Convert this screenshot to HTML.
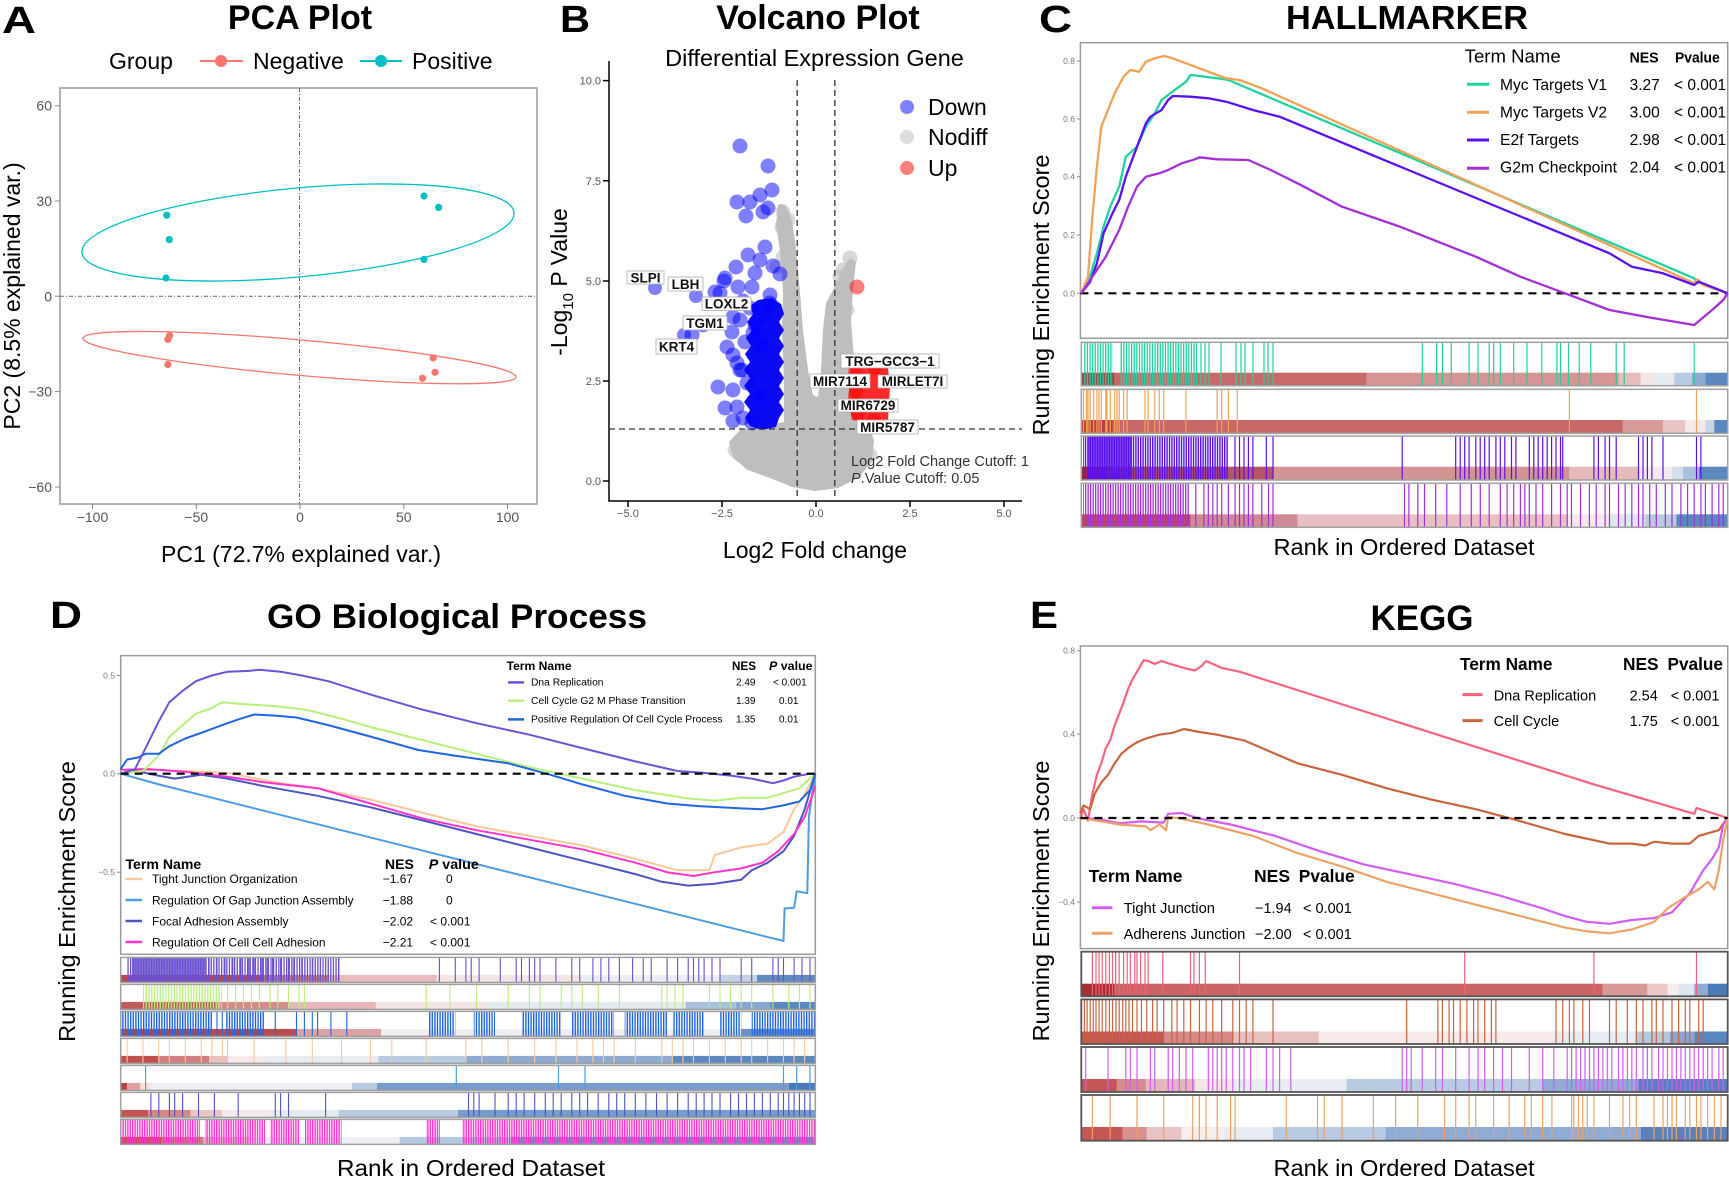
<!DOCTYPE html>
<html><head><meta charset="utf-8"><style>
html,body{margin:0;padding:0;background:#fff;}
svg{display:block;font-family:"Liberation Sans",Arial,sans-serif;}
</style></head><body>
<svg width="1729" height="1179" viewBox="0 0 1729 1179" xmlns="http://www.w3.org/2000/svg">
<defs>
<pattern id="pG" width="2.6" height="60" patternUnits="userSpaceOnUse"><rect width="1.3" height="60" fill="#1fd3a0"/></pattern>
<pattern id="pV" width="2.4" height="60" patternUnits="userSpaceOnUse"><rect width="1.4" height="60" fill="#5a10f0"/></pattern>
<pattern id="pP" width="2.5" height="60" patternUnits="userSpaceOnUse"><rect width="1.3" height="60" fill="#a32fd8"/></pattern>
<pattern id="pDp" width="2.6" height="60" patternUnits="userSpaceOnUse"><rect width="1.3" height="60" fill="#6a4fd0"/></pattern>
<pattern id="pDg" width="2.8" height="60" patternUnits="userSpaceOnUse"><rect width="1.3" height="60" fill="#b8f07a"/></pattern>
<pattern id="pDb" width="2.6" height="60" patternUnits="userSpaceOnUse"><rect width="1.4" height="60" fill="#1f66e0"/></pattern>
<pattern id="pDm" width="2.4" height="60" patternUnits="userSpaceOnUse"><rect width="1.4" height="60" fill="#ff33cc"/></pattern>
</defs>
<rect width="1729" height="1179" fill="#fff"/>

<!-- ================= PANEL A ================= -->
<text x="2" y="33" font-size="38" font-weight="bold" textLength="34" lengthAdjust="spacingAndGlyphs">A</text>
<text x="300" y="29" font-size="34" font-weight="bold" text-anchor="middle">PCA Plot</text>
<text x="109" y="69" font-size="23">Group</text>
<line x1="200" y1="61" x2="243" y2="61" stroke="#F8766D" stroke-width="2"/>
<circle cx="221" cy="61" r="6" fill="#F8766D"/>
<text x="253" y="69" font-size="23">Negative</text>
<line x1="360" y1="61" x2="402" y2="61" stroke="#00BFC4" stroke-width="2"/>
<circle cx="381" cy="61" r="6" fill="#00BFC4"/>
<text x="412" y="69" font-size="23">Positive</text>
<rect x="60" y="88" width="477" height="416" fill="none" stroke="#9a9a9a" stroke-width="1.5"/>
<g stroke="#888" stroke-width="1">
<path d="M55 105.7H60M55 201H60M55 296.3H60M55 391.6H60M55 487H60"/>
<path d="M92.5 504V509M196.3 504V509M300 504V509M403.8 504V509M507.5 504V509"/>
</g>
<g font-size="14" fill="#555" text-anchor="end">
<text x="52" y="110.7">60</text><text x="52" y="206">30</text><text x="52" y="301.3">0</text><text x="52" y="396.6">−30</text><text x="52" y="492">−60</text>
</g>
<g font-size="14" fill="#555" text-anchor="middle">
<text x="92.5" y="522">−100</text><text x="196.3" y="522">−50</text><text x="300" y="522">0</text><text x="403.8" y="522">50</text><text x="507.5" y="522">100</text>
</g>
<g stroke="#666" stroke-width="1" stroke-dasharray="4,2,1,2">
<line x1="299.5" y1="88" x2="299.5" y2="504"/>
<line x1="60" y1="296.3" x2="537" y2="296.3"/>
</g>
<ellipse cx="298" cy="232.5" rx="217" ry="44.4" transform="rotate(-5.3 298 232.5)" fill="none" stroke="#00BFC4" stroke-width="1.3"/>
<ellipse cx="299.5" cy="357.6" rx="217.4" ry="17.7" transform="rotate(5.1 299.5 357.6)" fill="none" stroke="#F8766D" stroke-width="1.3"/>
<g fill="#00BFC4">
<circle cx="166.8" cy="215.2" r="3.6"/><circle cx="169.3" cy="239.6" r="3.6"/><circle cx="166" cy="278" r="3.6"/>
<circle cx="424" cy="196" r="3.6"/><circle cx="438.6" cy="207.4" r="3.6"/><circle cx="424" cy="259.5" r="3.6"/>
</g>
<g fill="#F8766D">
<circle cx="169.6" cy="335.7" r="3.6"/><circle cx="167.9" cy="339.4" r="3.6"/><circle cx="167.9" cy="364.5" r="3.6"/>
<circle cx="433.2" cy="357.9" r="3.6"/><circle cx="435" cy="372.3" r="3.6"/><circle cx="422.5" cy="378.2" r="3.6"/>
</g>
<text x="301" y="562" font-size="23" text-anchor="middle">PC1 (72.7% explained var.)</text>
<text transform="translate(20,296) rotate(-90)" font-size="23" text-anchor="middle">PC2 (8.5% explained var.)</text>

<!-- ================= PANEL B ================= -->
<text x="560" y="32" font-size="38" font-weight="bold" textLength="30" lengthAdjust="spacingAndGlyphs">B</text>
<text x="818" y="29" font-size="34" font-weight="bold" text-anchor="middle">Volcano Plot</text>
<text x="814.5" y="66" font-size="23.5" text-anchor="middle">Differential Expression Gene</text>

<!-- gray mass -->
<path d="M778,205 C786,200 792,215 795,240 L799,280 L803,330 L808,370 L813,395 L818,397 L821,370 L823,330 L826,303 L833,290 L842,270 L850,258 L856,262 L853,290 L851,320 L854,360 L858,395 L866,418 L874,440 L872,462 L858,478 L838,488 L815,491 L792,487 L770,478 L748,470 L733,458 L729,442 L740,430 L760,427 L784,422 L784,380 L782,330 L783,290 L780,250 L776,225 Z" fill="#bebebe"/>
<g fill="#bebebe" fill-opacity="0.6">
<circle cx="783" cy="212" r="7.5"/><circle cx="788" cy="220" r="7.5"/><circle cx="782" cy="227" r="7.5"/><circle cx="788" cy="250" r="7.5"/><circle cx="783" cy="257" r="7.5"/><circle cx="777" cy="267" r="7.5"/>
<circle cx="850" cy="258" r="7.5"/><circle cx="843" cy="270" r="7.5"/><circle cx="840" cy="277" r="7.5"/><circle cx="838" cy="297" r="7.5"/><circle cx="847" cy="310" r="7.5"/>
<circle cx="738" cy="445" r="7.5"/><circle cx="745" cy="455" r="7.5"/><circle cx="750" cy="463" r="7.5"/><circle cx="735" cy="450" r="7.5"/><circle cx="866" cy="440" r="7.5"/><circle cx="870" cy="455" r="7.5"/>
</g>
<!-- blue -->
<path d="M758,300 L772,298 L781,304 L784,314 L779,322 L784,330 L779,338 L784,346 L779,354 L784,362 L779,370 L784,378 L779,386 L784,394 L779,402 L784,410 L779,418 L776,427 L762,430 L750,426 L745,418 L750,410 L744,402 L750,394 L744,386 L750,378 L744,370 L750,362 L745,354 L751,346 L746,338 L752,330 L747,322 L753,314 L750,306 Z" fill="#0a0af5"/>
<g fill="#0000ff" fill-opacity="0.5">
<circle cx="740" cy="146" r="7.5"/><circle cx="768" cy="166" r="7.5"/><circle cx="737" cy="202" r="7.5"/><circle cx="750" cy="202" r="7.5"/><circle cx="760" cy="195" r="7.5"/><circle cx="772" cy="190" r="7.5"/>
<circle cx="746" cy="216" r="7.5"/><circle cx="763" cy="212" r="7.5"/><circle cx="768" cy="208" r="7.5"/><circle cx="765" cy="247" r="7.5"/><circle cx="736" cy="267" r="7.5"/><circle cx="725" cy="278" r="7.5"/>
<circle cx="755" cy="273" r="7.5"/><circle cx="773" cy="266" r="7.5"/><circle cx="780" cy="274" r="7.5"/><circle cx="738" cy="287" r="7.5"/><circle cx="752" cy="287" r="7.5"/><circle cx="770" cy="295" r="7.5"/>
<circle cx="720" cy="293" r="7.5"/><circle cx="750" cy="308" r="7.5"/><circle cx="733" cy="317" r="7.5"/><circle cx="770" cy="303" r="7.5"/><circle cx="755" cy="325" r="7.5"/><circle cx="732" cy="332" r="7.5"/>
<circle cx="745" cy="342" r="7.5"/><circle cx="727" cy="347" r="7.5"/><circle cx="737" cy="363" r="7.5"/><circle cx="742" cy="370" r="7.5"/><circle cx="718" cy="387" r="7.5"/><circle cx="733" cy="390" r="7.5"/>
<circle cx="747" cy="383" r="7.5"/><circle cx="725" cy="408" r="7.5"/><circle cx="737" cy="407" r="7.5"/><circle cx="743" cy="418" r="7.5"/><circle cx="752" cy="423" r="7.5"/><circle cx="733" cy="421" r="7.5"/>
<circle cx="724" cy="281" r="7.5"/><circle cx="743" cy="301" r="7.5"/><circle cx="740" cy="320" r="7.5"/><circle cx="753" cy="333" r="7.5"/><circle cx="733" cy="355" r="7.5"/><circle cx="740" cy="370" r="7.5"/>
<circle cx="715" cy="292" r="7.5"/><circle cx="703" cy="325" r="7.5"/><circle cx="692" cy="335" r="7.5"/><circle cx="684" cy="335" r="7"/><circle cx="696" cy="296" r="7"/><circle cx="655" cy="288" r="7"/>
<circle cx="760" cy="260" r="7.5"/><circle cx="748" cy="255" r="7.5"/><circle cx="762" cy="345" r="7.5"/><circle cx="760" cy="395" r="7.5"/><circle cx="765" cy="315" r="7.5"/>
</g>
<!-- red -->
<path d="M850,368 L872,364 L888,368 L890,385 L889,405 L888,420 L870,423 L852,420 L848,400 L850,380 Z" fill="#ff2a2a"/>
<g fill="#ff0000" fill-opacity="0.5">
<circle cx="857" cy="287" r="7.5"/>
<circle cx="855" cy="372" r="7"/><circle cx="875" cy="368" r="7"/><circle cx="884" cy="380" r="7"/><circle cx="856" cy="392" r="7"/><circle cx="886" cy="405" r="7"/><circle cx="858" cy="413" r="7"/><circle cx="874" cy="420" r="7"/>
</g>
<!-- axes -->
<g stroke="#000" stroke-width="1.5" fill="none">
<path d="M609 61V501H1022"/>
<path d="M603 80.6H609M603 180.8H609M603 281H609M603 381H609M603 481H609"/>
<path d="M628 501V507M722 501V507M816 501V507M910 501V507M1004 501V507"/>
</g>
<g font-size="11" fill="#555" text-anchor="end">
<text x="601" y="84.6">10.0</text><text x="601" y="184.8">7.5</text><text x="601" y="285">5.0</text><text x="601" y="385">2.5</text><text x="601" y="485">0.0</text>
</g>
<g font-size="11" fill="#555" text-anchor="middle">
<text x="628" y="517">−5.0</text><text x="722" y="517">−2.5</text><text x="816" y="517">0.0</text><text x="910" y="517">2.5</text><text x="1004" y="517">5.0</text>
</g>
<g stroke="#333" stroke-width="1.3" stroke-dasharray="6,4">
<line x1="797.2" y1="80" x2="797.2" y2="501"/>
<line x1="834.8" y1="80" x2="834.8" y2="501"/>
<line x1="609" y1="429" x2="1022" y2="429"/>
</g>
<!-- labels -->
<g stroke="#aaa" stroke-width="0.8" fill="#fff">
<rect x="627" y="271" width="37" height="13"/><rect x="668" y="277" width="35" height="14"/><rect x="702" y="297" width="49" height="13.5"/>
<rect x="683" y="316" width="44" height="14"/><rect x="656" y="339" width="41" height="15"/><rect x="841" y="354" width="98" height="14"/>
<rect x="810" y="374" width="60" height="14"/><rect x="878" y="375" width="69" height="13"/><rect x="838" y="399" width="60" height="13"/><rect x="857" y="420" width="61" height="14"/>
</g>
<g font-size="13.5" font-weight="bold" fill="#111" text-anchor="middle">
<text x="645.5" y="282.5">SLPI</text><text x="685.5" y="289">LBH</text><text x="726.5" y="308.5">LOXL2</text>
<text x="705" y="328">TGM1</text><text x="676.5" y="351.5">KRT4</text><text x="890" y="366">TRG−GCC3−1</text>
<text x="840" y="386">MIR7114</text><text x="912.5" y="386">MIRLET7I</text><text x="868" y="410">MIR6729</text><text x="887.5" y="432">MIR5787</text>
</g>
<!-- legend -->
<circle cx="907" cy="107" r="7" fill="#7f7fff"/>
<circle cx="907" cy="137" r="7" fill="#dcdcdc"/>
<circle cx="907" cy="168" r="7" fill="#ff7f7f"/>
<g font-size="23"><text x="928" y="115">Down</text><text x="928" y="145">Nodiff</text><text x="928" y="176">Up</text></g>
<text x="851" y="466" font-size="14.5" fill="#333">Log2 Fold Change Cutoff: 1</text>
<text x="851" y="483" font-size="14.5" fill="#333"><tspan font-style="italic">P</tspan>.Value Cutoff: 0.05</text>
<text x="815" y="558" font-size="23" text-anchor="middle">Log2  Fold change</text>
<text transform="translate(567,282) rotate(-90)" font-size="23" text-anchor="middle">-Log<tspan font-size="15" dy="6">10</tspan><tspan dy="-6"> P Value</tspan></text>

<!-- ================= PANEL C ================= -->
<text x="1039" y="32" font-size="38" font-weight="bold" textLength="33" lengthAdjust="spacingAndGlyphs">C</text>
<text x="1407" y="29" font-size="33" font-weight="bold" text-anchor="middle" textLength="242" lengthAdjust="spacingAndGlyphs">HALLMARKER</text>
<rect x="1080.4" y="42.7" width="647.3" height="295.6" fill="#fff" stroke="#9a9a9a" stroke-width="1.5"/>
<g stroke="#888" stroke-width="1"><path d="M1077 61H1080.4M1077 119H1080.4M1077 176.7H1080.4M1077 235H1080.4M1077 293.3H1080.4"/></g>
<g font-size="8.5" fill="#777" text-anchor="end">
<text x="1075" y="64">0.8</text><text x="1075" y="122">0.6</text><text x="1075" y="179.7">0.4</text><text x="1075" y="238">0.2</text><text x="1075" y="296.3">0.0</text>
</g>
<line x1="1080.4" y1="293.3" x2="1727.7" y2="293.3" stroke="#000" stroke-width="2.2" stroke-dasharray="8,6"/>
<g fill="none" stroke-width="2.3" stroke-linejoin="round">
<polyline stroke="#1fd3a0" points="1081.3,293.3 1088,283.3 1096.9,253.3 1103.6,226.7 1110.2,206.7 1119.2,186.7 1125.8,156.7 1137,146.7 1145.9,126.7 1154.8,113.3 1161.5,100 1168.2,95 1177.1,88.3 1186,81.7 1190.5,75 1199.4,76 1217.2,78.3 1228.4,80 1694.2,278.3 1696.5,281.7 1727.7,293.3"/>
<polyline stroke="#f2a255" points="1081.3,293.3 1088,276.7 1092.4,216.7 1096.9,166.7 1101.3,126.7 1108,110 1114.7,93.3 1123.6,76.7 1130.3,70 1139.2,71.7 1145.9,61.7 1154.8,58.3 1163.7,56 1172.7,58.3 1181.6,61.7 1199.4,68.3 1217.2,75 1226.2,78.3 1239.5,80 1261.8,88.3 1694.2,283.3 1697.4,279.3 1703.2,285 1727.7,293.3"/>
<polyline stroke="#5a10f0" points="1081.3,293.3 1090.2,281.7 1096.9,263.3 1103.6,233.3 1112.5,213.3 1119.2,200 1125.8,176.7 1137,146.7 1145.9,123.3 1150.4,116.7 1161.5,110 1168.2,100 1172.7,96 1190.5,96.7 1208.3,98.3 1226.2,101.7 1252.9,110 1279.6,116.7 1609.5,253.3 1631.8,266.7 1663,273.3 1694.2,285 1698.7,281.7 1727.7,293.3"/>
<polyline stroke="#a32fd8" points="1081.3,293.3 1092.4,276.7 1105.8,256.7 1119.2,230 1128.1,206.7 1137,186.7 1145.9,176.7 1159.3,173.3 1168.2,170 1181.6,163.3 1195,159.3 1199.4,157.3 1217.2,159.3 1248.4,160 1270.7,170 1297.5,183.3 1342,206.7 1400,226.7 1475.8,256.7 1520.4,276.7 1565,293.3 1609.5,310 1654.1,318.3 1694.2,325 1712.1,310 1723.2,300 1727.7,293.3"/>
</g>
<text x="1464.7" y="62.3" font-size="18" textLength="96" lengthAdjust="spacingAndGlyphs">Term Name</text>
<text x="1629.6" y="62.3" font-size="15" font-weight="bold" textLength="29" lengthAdjust="spacingAndGlyphs">NES</text>
<text x="1675" y="62.3" font-size="15" font-weight="bold" textLength="44.7" lengthAdjust="spacingAndGlyphs">Pvalue</text>
<g stroke-width="3">
<line x1="1467" y1="84.3" x2="1489" y2="84.3" stroke="#1fd3a0"/>
<line x1="1467" y1="112.3" x2="1489" y2="112.3" stroke="#f2a255"/>
<line x1="1467" y1="140" x2="1489" y2="140" stroke="#5a10f0"/>
<line x1="1467" y1="168.3" x2="1489" y2="168.3" stroke="#a32fd8"/>
</g>
<g font-size="15.5">
<text x="1500" y="90" textLength="107" lengthAdjust="spacingAndGlyphs">Myc Targets V1</text>
<text x="1500" y="117.3" textLength="107" lengthAdjust="spacingAndGlyphs">Myc Targets V2</text>
<text x="1500" y="145" textLength="79" lengthAdjust="spacingAndGlyphs">E2f Targets</text>
<text x="1500" y="172.3" textLength="117" lengthAdjust="spacingAndGlyphs">G2m Checkpoint</text>
<text x="1629.6" y="90">3.27</text><text x="1629.6" y="117.3">3.00</text><text x="1629.6" y="145">2.98</text><text x="1629.6" y="172.3">2.04</text>
<text x="1674" y="90">&lt; 0.001</text><text x="1674" y="117.3">&lt; 0.001</text><text x="1674" y="145">&lt; 0.001</text><text x="1674" y="172.3">&lt; 0.001</text>
</g>
<!-- C strips -->
<g>
<rect x="1081.3" y="372.7" width="33.4" height="13" fill="#9e4545"/><rect x="1114.7" y="372.7" width="251.9" height="13" fill="#c96a6a"/><rect x="1366.6" y="372.7" width="251.9" height="13" fill="#d79494"/><rect x="1618.5" y="372.7" width="22.2" height="13" fill="#e8bcbc"/><rect x="1640.7" y="372.7" width="13.4" height="13" fill="#f5e6e6"/><rect x="1654.1" y="372.7" width="20.1" height="13" fill="#e6ebf2"/><rect x="1674.2" y="372.7" width="17.8" height="13" fill="#b9cbe2"/><rect x="1692" y="372.7" width="13.4" height="13" fill="#8dabd2"/><rect x="1705.4" y="372.7" width="22.3" height="13" fill="#5b88bf"/>
<rect x="1083" y="342.3" width="30" height="43.4" fill="url(#pG)"/><rect x="1120" y="342.3" width="77" height="43.4" fill="url(#pG)"/>
<path transform="translate(0,342.3)" stroke="#1fd3a0" stroke-width="1.2" d="M1201 0v43.4M1205 0v43.4M1209 0v43.4M1221 0v43.4M1236 0v43.4M1241 0v43.4M1245 0v43.4M1253 0v43.4M1264 0v43.4M1268 0v43.4M1273 0v43.4M1422.3 0v43.4M1436.6 0v43.4M1442.4 0v43.4M1451.3 0v43.4M1469.1 0v43.4M1478 0v43.4M1489.2 0v43.4M1493.6 0v43.4M1500.3 0v43.4M1513.7 0v43.4M1527 0v43.4M1541.8 0v43.4M1556.9 0v43.4M1560.5 0v43.4M1568.5 0v43.4M1579.2 0v43.4M1590.8 0v43.4M1616.2 0v43.4M1624.2 0v43.4M1694.2 0v43.4"/>
<rect x="1081.3" y="342.3" width="646.4" height="43.4" fill="none" stroke="#a0a0a0" stroke-width="1.5"/>

<rect x="1081.3" y="420" width="31.2" height="13.3" fill="#b84040"/><rect x="1112.5" y="420" width="510.4" height="13.3" fill="#c96868"/><rect x="1622.9" y="420" width="40.1" height="13.3" fill="#d99a9a"/><rect x="1663" y="420" width="22.3" height="13.3" fill="#e8c4c4"/><rect x="1685.3" y="420" width="20.1" height="13.3" fill="#f2eaea"/><rect x="1705.4" y="420" width="8.9" height="13.3" fill="#c9d6e8"/><rect x="1714.3" y="420" width="13.4" height="13.3" fill="#5b88bf"/>
<path transform="translate(0,389.3)" stroke="#f2a255" stroke-width="1.2" d="M1083.5 0v44M1086.6 0v44M1088 0v44M1090.2 0v44M1093.7 0v44M1096.9 0v44M1099 0v44M1101.3 0v44M1105.8 0v44M1107 0v44M1110.2 0v44M1114.7 0v44M1117 0v44M1119.2 0v44M1123.6 0v44M1127.2 0v44M1145 0v44M1148.1 0v44M1154.8 0v44M1159.3 0v44M1163.7 0v44M1186 0v44M1217.2 0v44M1221.7 0v44M1228.4 0v44M1237.3 0v44M1569.4 0v44M1696.5 0v44"/>
<rect x="1081.3" y="389.3" width="646.4" height="44" fill="none" stroke="#a0a0a0" stroke-width="1.5"/>

<rect x="1081.3" y="466.7" width="26.7" height="13.3" fill="#a82a40"/><rect x="1108" y="466.7" width="165" height="13.3" fill="#b55565"/><rect x="1273" y="466.7" width="296.4" height="13.3" fill="#d49494"/><rect x="1569.4" y="466.7" width="69.1" height="13.3" fill="#e6baba"/><rect x="1638.5" y="466.7" width="33.5" height="13.3" fill="#f2eaee"/><rect x="1672" y="466.7" width="11.1" height="13.3" fill="#d2deec"/><rect x="1683.1" y="466.7" width="15.6" height="13.3" fill="#a8c0dc"/><rect x="1698.7" y="466.7" width="29" height="13.3" fill="#5b88bf"/>
<rect x="1083" y="436" width="145" height="44" fill="url(#pV)"/><rect x="1088" y="436" width="44" height="44" fill="#5a10f0" fill-opacity="0.75"/>
<path transform="translate(0,436)" stroke="#5a10f0" stroke-width="1.2" d="M1235 0v44M1239.5 0v44M1244 0v44M1248.4 0v44M1252.9 0v44M1266.3 0v44M1273 0v44M1402.2 0v44M1455.7 0v44M1460.2 0v44M1464.7 0v44M1469.1 0v44M1475.8 0v44M1480.2 0v44M1484.7 0v44M1489.2 0v44M1495.9 0v44M1500.3 0v44M1504.8 0v44M1511.5 0v44M1515.9 0v44M1529.3 0v44M1533.8 0v44M1538.2 0v44M1542.7 0v44M1547.2 0v44M1551.6 0v44M1556 0v44M1560.5 0v44M1562.7 0v44M1593.9 0v44M1598.4 0v44M1605.1 0v44M1609.5 0v44M1616.2 0v44M1638.5 0v44M1643 0v44M1647.4 0v44M1651.9 0v44M1663 0v44M1696.5 0v44M1700.9 0v44"/>
<rect x="1081.3" y="436" width="646.4" height="44" fill="none" stroke="#a0a0a0" stroke-width="1.5"/>

<rect x="1081.3" y="514.3" width="109.2" height="13" fill="#bf4a6a"/><rect x="1190.5" y="514.3" width="107" height="13" fill="#d08a95"/><rect x="1297.5" y="514.3" width="269.7" height="13" fill="#e8c0c4"/><rect x="1567.2" y="514.3" width="42.3" height="13" fill="#f4e8ee"/><rect x="1609.5" y="514.3" width="35.7" height="13" fill="#e0e6f0"/><rect x="1645.2" y="514.3" width="31.2" height="13" fill="#b8c9e0"/><rect x="1676.4" y="514.3" width="51.3" height="13" fill="#5b88bf"/>
<rect x="1083" y="483.3" width="107" height="44" fill="url(#pP)"/>
<path transform="translate(0,483.3)" stroke="#a32fd8" stroke-width="1.2" d="M1195.8 0v44M1203.9 0v44M1208.3 0v44M1212.8 0v44M1217.2 0v44M1221.7 0v44M1228.4 0v44M1235.1 0v44M1239.5 0v44M1244 0v44M1248.4 0v44M1252.9 0v44M1261.8 0v44M1268.5 0v44M1273 0v44M1404.5 0v44M1408.9 0v44M1417.8 0v44M1424.5 0v44M1435.7 0v44M1446.8 0v44M1460.2 0v44M1471.3 0v44M1480.3 0v44M1489.2 0v44M1500.3 0v44M1507.1 0v44M1513.7 0v44M1520.4 0v44M1524.9 0v44M1529.3 0v44M1536 0v44M1542.7 0v44M1551.6 0v44M1560.5 0v44M1567.2 0v44M1571.5 0v44M1580.5 0v44M1589.4 0v44M1596.2 0v44M1605.1 0v44M1609.5 0v44M1618.5 0v44M1625.2 0v44M1631.8 0v44M1638.5 0v44M1643 0v44M1649.7 0v44M1656.3 0v44M1665.3 0v44M1672 0v44M1680.9 0v44M1687.6 0v44M1694.2 0v44M1700.9 0v44M1705.4 0v44M1712.1 0v44M1718.8 0v44M1723.2 0v44"/>
<rect x="1081.3" y="483.3" width="646.4" height="44" fill="none" stroke="#a0a0a0" stroke-width="1.5"/>
</g>
<text x="1404" y="555" font-size="23" text-anchor="middle" textLength="261" lengthAdjust="spacingAndGlyphs">Rank in Ordered Dataset</text>
<text transform="translate(1049,295) rotate(-90)" font-size="23.5" text-anchor="middle">Running Enrichment Score</text>

<!-- ================= PANEL D ================= -->
<text x="50" y="628" font-size="38" font-weight="bold" textLength="32" lengthAdjust="spacingAndGlyphs">D</text>
<text x="457" y="628" font-size="34.6" font-weight="bold" text-anchor="middle" textLength="380" lengthAdjust="spacingAndGlyphs">GO Biological Process</text>
<rect x="120.7" y="655.6" width="694.6" height="298.7" fill="#fff" stroke="#9a9a9a" stroke-width="1.5"/>
<g stroke="#888" stroke-width="1"><path d="M117 675.5H120.7M117 773.7H120.7M117 872.2H120.7"/></g>
<g font-size="8.5" fill="#777" text-anchor="end">
<text x="115" y="678.5">0.5</text><text x="115" y="776.7">0.0</text><text x="115" y="875.2">−0.5</text>
</g>
<g fill="none" stroke-width="2" stroke-linejoin="round">
<polyline stroke="#4d9de0" points="120.7,773.7 158.8,784.4 783.5,941 784.6,908.5 794.1,907.7 796.7,891.3 807.3,893.2 808.9,816.8 815.3,773.7"/>
<polyline stroke="#f9c89a" points="120.7,773.7 148.2,769.8 185.3,771 227.6,772.9 275.3,782.4 317.6,788.2 370.6,799.6 423.5,813 476.5,826.4 529.4,835.9 582.3,845.5 635.3,858.8 677.6,870.3 709.4,870.3 714.7,855 741.2,847.4 767.6,843.6 783.5,832.1 794.1,809.2 804.7,793.9 815.3,773.7"/>
<polyline stroke="#4b55c2" points="120.7,773.7 137.6,771 153.5,774.8 174.7,778.6 201.2,774.8 227.6,778.6 264.7,786.3 317.6,795.8 370.6,807.3 423.5,820.6 476.5,834 529.4,847.4 582.3,860.7 635.3,874.1 661.8,881.8 688.2,885.6 714.7,883.7 741.2,879.8 751.7,870.3 767.6,862.7 783.5,851.2 794.1,835.9 804.7,809.2 815.3,773.7"/>
<polyline stroke="#ff33cc" points="120.7,769.8 148.2,769.1 185.3,771.7 227.6,776.7 264.7,782.4 317.6,788.2 370.6,803.5 423.5,818.7 476.5,830.2 529.4,839.7 582.3,849.3 635.3,862.7 667.1,872.2 693.5,876 714.7,872.2 741.2,868.4 762.4,862.7 778.2,851.2 794.1,834 804.7,816.8 815.3,786.3"/>
<polyline stroke="#b8f07a" points="120.7,773.7 142.9,771 158.8,755.7 169.4,736.6 182.6,725.1 195.9,713.7 211.8,708 222.3,702.2 243.5,704.1 275.3,706.1 307,709.9 344.1,719.4 370.6,727.1 423.5,740.4 476.5,753.8 529.4,767.2 582.3,778.6 635.3,790.1 688.2,798.5 714.7,800.8 741.2,797.7 767.6,797.7 783.5,793.1 799.4,788.2 815.3,773.7"/>
<polyline stroke="#1f66e0" points="120.7,769.1 127.1,759.5 137.6,757.6 145.6,753.8 158.8,753.8 169.4,746.2 185.3,738.5 206.5,730.9 222.3,725.1 238.2,719.4 254.1,714.5 275.3,715.6 296.5,717.5 328.2,725.1 370.6,736.6 418.2,750 455.3,755.7 508.2,763.3 550.6,774.8 582.3,784.4 624.7,795.8 667.1,803.5 698.8,806.1 741.2,808.4 762.4,809.2 783.5,805.4 799.4,801.5 810,790.1 815.3,773.7"/>
<polyline stroke="#6f50d8" points="120.7,773.7 135,769.1 145.6,748.1 158.8,721.3 169.4,702.2 182.6,690.8 195.9,681.2 211.8,675.5 227.6,671.7 248.8,670.9 259.4,669.8 280.6,671.7 301.8,675.5 328.2,681.2 370.6,694.6 423.5,709.9 476.5,723.2 529.4,734.7 582.3,748.1 635.3,761.4 677.6,771 704.1,772.9 730.6,775.6 751.7,778.6 772.9,783.2 783.5,780.5 794.1,776.7 810,773.7 815.3,773.7"/>
</g>
<line x1="120.7" y1="773.7" x2="815.3" y2="773.7" stroke="#000" stroke-width="2.2" stroke-dasharray="8,6"/>
<!-- D legend top -->
<text x="506.6" y="669.8" font-size="12" font-weight="bold" textLength="65" lengthAdjust="spacingAndGlyphs">Term Name</text>
<text x="732" y="669.8" font-size="12" font-weight="bold" textLength="24" lengthAdjust="spacingAndGlyphs">NES</text>
<text x="769" y="669.8" font-size="12" font-weight="bold" textLength="43.6" lengthAdjust="spacingAndGlyphs"><tspan font-style="italic">P</tspan> value</text>
<g stroke-width="2.5">
<line x1="508" y1="682.4" x2="524" y2="682.4" stroke="#6f50d8"/>
<line x1="508" y1="700.7" x2="524" y2="700.7" stroke="#b8f07a"/>
<line x1="508" y1="719.4" x2="524" y2="719.4" stroke="#1f66e0"/>
</g>
<g font-size="10">
<text x="531" y="685.5" textLength="72.5" lengthAdjust="spacingAndGlyphs">Dna Replication</text>
<text x="531" y="703.8" textLength="154.5" lengthAdjust="spacingAndGlyphs">Cell Cycle G2 M Phase Transition</text>
<text x="531" y="722.4" textLength="191.6" lengthAdjust="spacingAndGlyphs">Positive Regulation Of Cell Cycle Process</text>
<text x="736" y="685.5">2.49</text><text x="736" y="703.8">1.39</text><text x="736" y="722.4">1.35</text>
<text x="773" y="685.5">&lt; 0.001</text><text x="779" y="703.8">0.01</text><text x="779" y="722.4">0.01</text>
</g>
<!-- D legend bottom -->
<text x="125.5" y="869.2" font-size="14" font-weight="bold" textLength="75.7" lengthAdjust="spacingAndGlyphs">Term Name</text>
<text x="384.9" y="869.2" font-size="14" font-weight="bold" textLength="29" lengthAdjust="spacingAndGlyphs">NES</text>
<text x="428.8" y="869.2" font-size="14" font-weight="bold" textLength="50" lengthAdjust="spacingAndGlyphs"><tspan font-style="italic">P</tspan> value</text>
<g stroke-width="2.5">
<line x1="125.5" y1="879" x2="142" y2="879" stroke="#f9c89a"/>
<line x1="125.5" y1="900" x2="142" y2="900" stroke="#4d9de0"/>
<line x1="125.5" y1="921" x2="142" y2="921" stroke="#4b55c2"/>
<line x1="125.5" y1="942" x2="142" y2="942" stroke="#ff33cc"/>
</g>
<g font-size="12">
<text x="152" y="883" textLength="145.5" lengthAdjust="spacingAndGlyphs">Tight Junction Organization</text>
<text x="152" y="904.7" textLength="201.6" lengthAdjust="spacingAndGlyphs">Regulation Of Gap Junction Assembly</text>
<text x="152" y="925.7" textLength="136.5" lengthAdjust="spacingAndGlyphs">Focal Adhesion Assembly</text>
<text x="152" y="946.7" textLength="173.6" lengthAdjust="spacingAndGlyphs">Regulation Of Cell Cell Adhesion</text>
<text x="382.7" y="883">−1.67</text><text x="382.7" y="904.7">−1.88</text><text x="382.7" y="925.7">−2.02</text><text x="382.7" y="946.7">−2.21</text>
<text x="446" y="883">0</text><text x="446" y="904.7">0</text><text x="430" y="925.7">&lt; 0.001</text><text x="430" y="946.7">&lt; 0.001</text>
</g>
<!-- D strips -->
<g>
<rect x="120.7" y="974.9" width="144" height="7.5" fill="#b34a52"/><rect x="264.7" y="974.9" width="63.5" height="7.5" fill="#cd7e80"/><rect x="328.2" y="974.9" width="108.5" height="7.5" fill="#e8bcbc"/><rect x="436.7" y="974.9" width="145.6" height="7.5" fill="#f3e4e6"/><rect x="582.3" y="974.9" width="137.7" height="7.5" fill="#eceef5"/><rect x="720" y="974.9" width="37" height="7.5" fill="#c4d2e6"/><rect x="757" y="974.9" width="58.3" height="7.5" fill="#5f8bc0"/>
<rect x="127" y="957.4" width="213" height="25" fill="url(#pDp)"/><rect x="132" y="957.4" width="74" height="25" fill="#6a4fd0" fill-opacity="0.8"/>
<path transform="translate(0,957.4)" stroke="#6a4fd0" stroke-width="1.1" d="M209.1 0v25M217 0v25M225 0v25M232.9 0v25M240.9 0v25M248.8 0v25M254.1 0v25M262 0v25M267.3 0v25M272.6 0v25M280.6 0v25M288.5 0v25M293.8 0v25M301.8 0v25M312.3 0v25M320.3 0v25M338.8 0v25M439.4 0v25M455.3 0v25M465.9 0v25M471.2 0v25M479.1 0v25M500.3 0v25M516.2 0v25M521.5 0v25M529.4 0v25M534.7 0v25M540 0v25M555.9 0v25M571.8 0v25M579.7 0v25M592.9 0v25M600.9 0v25M608.8 0v25M619.4 0v25M632.6 0v25M643.2 0v25M651.2 0v25M667.1 0v25M677.6 0v25M688.2 0v25M693.5 0v25M698.8 0v25M704.1 0v25M712 0v25M720 0v25M741.2 0v25M751.7 0v25M772.9 0v25M778.2 0v25M783.5 0v25M794.1 0v25M802 0v25M810 0v25"/>
<rect x="120.7" y="957.4" width="694.6" height="25" fill="none" stroke="#a0a0a0" stroke-width="1.5"/>

<rect x="120.7" y="1001.9" width="96.3" height="7.5" fill="#c25a5a"/><rect x="217" y="1001.9" width="71.5" height="7.5" fill="#d48c8c"/><rect x="288.5" y="1001.9" width="87.4" height="7.5" fill="#e6b8b8"/><rect x="375.9" y="1001.9" width="111.1" height="7.5" fill="#f4e4e4"/><rect x="487" y="1001.9" width="198.6" height="7.5" fill="#e4eaf2"/><rect x="685.6" y="1001.9" width="50.3" height="7.5" fill="#a8c0dc"/><rect x="735.9" y="1001.9" width="34.4" height="7.5" fill="#88a8d0"/><rect x="770.3" y="1001.9" width="45" height="7.5" fill="#5b88bf"/>
<rect x="143" y="984.4" width="79" height="25" fill="url(#pDg)"/>
<path transform="translate(0,984.4)" stroke="#b8f07a" stroke-width="1.1" d="M227.6 0v25M235.6 0v25M243.5 0v25M251.5 0v25M259.4 0v25M270 0v25M277.9 0v25M288.5 0v25M299.1 0v25M304.4 0v25M426.2 0v25M450 0v25M476.5 0v25M508.2 0v25M529.4 0v25M540 0v25M561.2 0v25M571.8 0v25M582.3 0v25M598.3 0v25M619.4 0v25M661.8 0v25M667.1 0v25M675 0v25M682.9 0v25M709.4 0v25M720 0v25M730.6 0v25M741.2 0v25M751.7 0v25M772.9 0v25M788.8 0v25M799.4 0v25M810 0v25"/>
<rect x="120.7" y="984.4" width="694.6" height="25" fill="none" stroke="#a0a0a0" stroke-width="1.5"/>

<rect x="120.7" y="1028.9" width="175.8" height="7.5" fill="#b84c50"/><rect x="296.5" y="1028.9" width="84.7" height="7.5" fill="#dba4a4"/><rect x="381.2" y="1028.9" width="360" height="7.5" fill="#f0eef2"/><rect x="741.2" y="1028.9" width="74.1" height="7.5" fill="#6a90c4"/>
<g fill="url(#pDb)">
<rect x="121.5" y="1011.4" width="90.5" height="25"/><rect x="226" y="1011.4" width="38" height="25"/><rect x="428.8" y="1011.4" width="26.5" height="25"/><rect x="473.8" y="1011.4" width="21.2" height="25"/><rect x="521.5" y="1011.4" width="39.7" height="25"/><rect x="571.8" y="1011.4" width="42.3" height="25"/><rect x="624.7" y="1011.4" width="42.4" height="25"/><rect x="672.3" y="1011.4" width="31.8" height="25"/><rect x="720" y="1011.4" width="21.2" height="25"/><rect x="751.7" y="1011.4" width="63.6" height="25"/>
</g>
<path transform="translate(0,1011.4)" stroke="#1f66e0" stroke-width="1.1" d="M217 0v25M222.3 0v25M275.3 0v25M296.5 0v25M304.4 0v25M312.3 0v25M317.6 0v25M330.9 0v25M346.8 0v25"/>
<rect x="120.7" y="1011.4" width="694.6" height="25" fill="none" stroke="#a0a0a0" stroke-width="1.5"/>

<rect x="120.7" y="1055.9" width="38.1" height="7.5" fill="#c05050"/><rect x="158.8" y="1055.9" width="50.3" height="7.5" fill="#d08080"/><rect x="209.1" y="1055.9" width="18.5" height="7.5" fill="#e8c0c0"/><rect x="227.6" y="1055.9" width="37.1" height="7.5" fill="#f4e8e8"/><rect x="264.7" y="1055.9" width="113.8" height="7.5" fill="#e8edf4"/><rect x="378.5" y="1055.9" width="87.4" height="7.5" fill="#b8cbe2"/><rect x="465.9" y="1055.9" width="206.4" height="7.5" fill="#8eaad0"/><rect x="672.3" y="1055.9" width="143" height="7.5" fill="#5b88bf"/>
<path transform="translate(0,1038.4)" stroke="#f9c89a" stroke-width="1.1" d="M127.1 0v25M142.9 0v25M158.8 0v25M169.4 0v25M185.3 0v25M201.2 0v25M211.8 0v25M222.3 0v25M227.6 0v25M254.1 0v25M285.9 0v25M312.3 0v25M341.5 0v25M370.6 0v25M391.8 0v25M426.2 0v25M465.9 0v25M481.8 0v25M508.2 0v25M534.7 0v25M555.9 0v25M577 0v25M592.9 0v25M603.5 0v25M614.1 0v25M635.3 0v25M661.8 0v25M672.3 0v25M682.9 0v25M693.5 0v25M709.4 0v25M725.3 0v25M741.2 0v25M751.7 0v25M767.6 0v25M783.5 0v25M794.1 0v25M804.7 0v25"/>
<rect x="120.7" y="1038.4" width="694.6" height="25" fill="none" stroke="#a0a0a0" stroke-width="1.5"/>

<rect x="120.7" y="1082.9" width="6.4" height="7.5" fill="#c04040"/><rect x="127.1" y="1082.9" width="13.2" height="7.5" fill="#e0a0a0"/><rect x="140.3" y="1082.9" width="10.6" height="7.5" fill="#f4dede"/><rect x="150.9" y="1082.9" width="201.1" height="7.5" fill="#eef0f6"/><rect x="352" y="1082.9" width="24.9" height="7.5" fill="#b8cbe2"/><rect x="376.9" y="1082.9" width="411.9" height="7.5" fill="#7b9cca"/><rect x="788.8" y="1082.9" width="26.5" height="7.5" fill="#4a78b8"/>
<path transform="translate(0,1065.4)" stroke="#4d9de0" stroke-width="1.2" d="M145.6 0v25M456.3 0v25M558.5 0v25M585 0v25M783.5 0v25M796.7 0v25M810 0v25"/>
<rect x="120.7" y="1065.4" width="694.6" height="25" fill="none" stroke="#a0a0a0" stroke-width="1.5"/>

<rect x="120.7" y="1109.9" width="27.5" height="7.5" fill="#c45454"/><rect x="148.2" y="1109.9" width="42.4" height="7.5" fill="#d48888"/><rect x="190.6" y="1109.9" width="31.7" height="7.5" fill="#e8c4c4"/><rect x="222.3" y="1109.9" width="47.7" height="7.5" fill="#f4eaea"/><rect x="270" y="1109.9" width="68.8" height="7.5" fill="#e4eaf2"/><rect x="338.8" y="1109.9" width="119.1" height="7.5" fill="#b8cbe2"/><rect x="457.9" y="1109.9" width="357.4" height="7.5" fill="#7a9ccc"/>
<path transform="translate(0,1092.4)" stroke="#4b55c2" stroke-width="1.1" d="M150.9 0v25M158.8 0v25M169.4 0v25M174.7 0v25M182.6 0v25M198.5 0v25M214.4 0v25M238.2 0v25M275.3 0v25M280.6 0v25M288.5 0v25M325.6 0v25M468.5 0v25M473.8 0v25M479.1 0v25M495 0v25M508.2 0v25M516.2 0v25M524.1 0v25M534.7 0v25M545.3 0v25M553.2 0v25M561.2 0v25M571.8 0v25M579.7 0v25M587.6 0v25M598.2 0v25M608.8 0v25M616.7 0v25M624.7 0v25M635.3 0v25M645.9 0v25M656.5 0v25M667.1 0v25M677.6 0v25M688.2 0v25M696.2 0v25M704.1 0v25M712 0v25M720 0v25M730.6 0v25M738.5 0v25M746.5 0v25M754.4 0v25M762.4 0v25M770.3 0v25M778.2 0v25M783.5 0v25M788.8 0v25M794.1 0v25M799.4 0v25M804.7 0v25M810 0v25"/>
<rect x="120.7" y="1092.4" width="694.6" height="25" fill="none" stroke="#a0a0a0" stroke-width="1.5"/>

<rect x="120.7" y="1136.9" width="40.8" height="7.5" fill="#c04a5a"/><rect x="161.5" y="1136.9" width="42.3" height="7.5" fill="#d07a88"/><rect x="203.8" y="1136.9" width="45" height="7.5" fill="#e8c0c8"/><rect x="248.8" y="1136.9" width="150.9" height="7.5" fill="#eeeef6"/><rect x="399.7" y="1136.9" width="111.2" height="7.5" fill="#b8c8e2"/><rect x="510.9" y="1136.9" width="304.4" height="7.5" fill="#7a90c8"/>
<g fill="url(#pDm)">
<rect x="120.7" y="1119.4" width="79.3" height="25"/><rect x="205" y="1119.4" width="60" height="25"/><rect x="270" y="1119.4" width="30" height="25"/><rect x="305" y="1119.4" width="36.5" height="25"/><rect x="426" y="1119.4" width="14" height="25"/><rect x="462" y="1119.4" width="353.3" height="25"/>
</g>
<rect x="120.7" y="1119.4" width="694.6" height="25" fill="none" stroke="#a0a0a0" stroke-width="1.5"/>
</g>
<text x="471" y="1176" font-size="23" text-anchor="middle" textLength="268" lengthAdjust="spacingAndGlyphs">Rank in Ordered Dataset</text>
<text transform="translate(75,901.5) rotate(-90)" font-size="23.5" text-anchor="middle">Running Enrichment Score</text>

<!-- ================= PANEL E ================= -->
<text x="1030" y="628" font-size="38" font-weight="bold" textLength="28" lengthAdjust="spacingAndGlyphs">E</text>
<text x="1422" y="630" font-size="35" font-weight="bold" text-anchor="middle">KEGG</text>
<rect x="1080.4" y="646" width="647.3" height="302.6" fill="#fff" stroke="#9a9a9a" stroke-width="1.5"/>
<g stroke="#888" stroke-width="1"><path d="M1077 650.7H1080.4M1077 734H1080.4M1077 818H1080.4M1077 902H1080.4"/></g>
<g font-size="8.5" fill="#777" text-anchor="end">
<text x="1075" y="653.7">0.8</text><text x="1075" y="737">0.4</text><text x="1075" y="821">0.0</text><text x="1075" y="905">−0.4</text>
</g>
<g fill="none" stroke-width="2.2" stroke-linejoin="round">
<polyline stroke="#f8627e" points="1080.4,818 1083.5,809.2 1088,820.6 1092.4,793.9 1096.9,774.8 1101.3,763.3 1105.8,748.1 1110.2,740.4 1114.7,725.1 1119.2,713.7 1123.6,702.2 1128.1,688.9 1132.5,679.3 1137,671.7 1143.7,660.2 1148.1,661 1154.8,664 1161.5,661 1168.2,663.3 1177.1,665.9 1186,668.6 1194.9,670.5 1201.6,665.9 1206.1,661 1212.8,664 1221.7,667.9 1239.5,671.7 1593.9,784.4 1694.2,813.8 1696.5,808 1727.7,818"/>
<polyline stroke="#c9643f" points="1080.4,813 1083.5,805.4 1090.2,809.2 1094.6,793.9 1101.3,782.4 1108,774.8 1114.7,763.3 1121.4,753.8 1128.1,748.1 1137,742.3 1145.9,738.5 1159.3,734.7 1172.7,732.8 1183.8,729 1199.4,732 1217.2,734.7 1244,740.4 1297.5,763.3 1342,774.8 1386.6,788.2 1431.2,799.6 1475.8,809.2 1511.5,818.7 1565,834 1609.5,843.6 1631.8,843.6 1645.2,845.5 1654.1,841.7 1672,843.6 1689.8,843.6 1698.7,835.9 1712.1,832.1 1718.8,830.2 1725.4,820.6 1727.7,818"/>
<polyline stroke="#d35cf2" points="1080.4,818 1096.9,818.7 1119.2,823.3 1141.5,821.4 1163.7,822.6 1168.2,813.8 1181.6,813 1199.4,818.7 1230.6,824.5 1275.2,835.9 1319.8,851.2 1364.4,864.6 1408.9,874.1 1453.5,883.7 1498.1,895.1 1542.7,908.5 1565,916.1 1587.3,921.9 1609.5,923.8 1631.8,920 1654.1,918 1672,912.3 1689.8,893.2 1703.2,870.3 1712.1,858.8 1718.8,847.4 1723.2,824.5 1727.7,818"/>
<polyline stroke="#eda265" points="1080.4,818 1096.9,820.6 1119.2,824.5 1145.9,826.4 1150.4,830.2 1159.3,824.5 1166,830.2 1168.2,816.8 1181.6,818.7 1208.3,824.5 1252.9,835.9 1297.5,853.1 1342,866.5 1386.6,881.8 1431.2,893.2 1475.8,904.7 1520.4,916.1 1565,927.6 1587.3,931.4 1609.5,933.3 1631.8,929.5 1654.1,921.9 1667.5,908.5 1685.3,897 1698.7,889.4 1707.7,881.8 1714.3,889.4 1718.8,870.3 1723.2,839.7 1727.7,818"/>
</g>
<line x1="1080.4" y1="818" x2="1727.7" y2="818" stroke="#000" stroke-width="2.2" stroke-dasharray="8,6"/>
<text x="1460" y="670" font-size="17.5" font-weight="bold" textLength="92.5" lengthAdjust="spacingAndGlyphs">Term Name</text>
<text x="1623" y="670" font-size="17.5" font-weight="bold" textLength="35.6" lengthAdjust="spacingAndGlyphs">NES</text>
<text x="1667.5" y="670" font-size="17.5" font-weight="bold" textLength="55.5" lengthAdjust="spacingAndGlyphs">Pvalue</text>
<g stroke-width="3">
<line x1="1462.5" y1="694.6" x2="1482.5" y2="694.6" stroke="#f8627e"/>
<line x1="1462.5" y1="720.6" x2="1482.5" y2="720.6" stroke="#c9643f"/>
</g>
<g font-size="14.5">
<text x="1493.7" y="700.3" textLength="102.5" lengthAdjust="spacingAndGlyphs">Dna Replication</text>
<text x="1493.7" y="726" textLength="65.5" lengthAdjust="spacingAndGlyphs">Cell Cycle</text>
<text x="1629.6" y="700.3">2.54</text><text x="1629.6" y="726">1.75</text>
<text x="1670.7" y="700.3">&lt; 0.001</text><text x="1670.7" y="726">&lt; 0.001</text>
</g>
<text x="1088.8" y="881.8" font-size="17.5" font-weight="bold" textLength="93.7" lengthAdjust="spacingAndGlyphs">Term Name</text>
<text x="1254" y="881.8" font-size="17.5" font-weight="bold" textLength="36" lengthAdjust="spacingAndGlyphs">NES</text>
<text x="1298.8" y="881.8" font-size="17.5" font-weight="bold" textLength="55.8" lengthAdjust="spacingAndGlyphs">Pvalue</text>
<g stroke-width="3">
<line x1="1092" y1="907.7" x2="1112.5" y2="907.7" stroke="#d35cf2"/>
<line x1="1092" y1="933.3" x2="1112.5" y2="933.3" stroke="#eda265"/>
</g>
<g font-size="14.5">
<text x="1123.6" y="913" textLength="91.4" lengthAdjust="spacingAndGlyphs">Tight Junction</text>
<text x="1123.6" y="939" textLength="121.7" lengthAdjust="spacingAndGlyphs">Adherens Junction</text>
<text x="1255" y="913">−1.94</text><text x="1255" y="939">−2.00</text>
<text x="1303" y="913">&lt; 0.001</text><text x="1303" y="939">&lt; 0.001</text>
</g>
<!-- E strips -->
<g>
<rect x="1081.3" y="983.7" width="33.4" height="12.6" fill="#a83030"/><rect x="1114.7" y="983.7" width="488.1" height="12.6" fill="#c86464"/><rect x="1602.8" y="983.7" width="44.6" height="12.6" fill="#d89898"/><rect x="1647.4" y="983.7" width="20.1" height="12.6" fill="#ecc8c8"/><rect x="1667.5" y="983.7" width="11.1" height="12.6" fill="#f4eeee"/><rect x="1678.6" y="983.7" width="15.6" height="12.6" fill="#dfe6f0"/><rect x="1694.2" y="983.7" width="13.5" height="12.6" fill="#90acd4"/><rect x="1707.7" y="983.7" width="20" height="12.6" fill="#4a7ab8"/>
<path transform="translate(0,951.7)" stroke="#f0607c" stroke-width="1.2" d="M1092.4 0v44.6M1096 0v44.6M1099.1 0v44.6M1102.2 0v44.6M1105.8 0v44.6M1109.4 0v44.6M1112.5 0v44.6M1115.6 0v44.6M1119.2 0v44.6M1123.6 0v44.6M1127.2 0v44.6M1130.3 0v44.6M1134.8 0v44.6M1137 0v44.6M1140.6 0v44.6M1145 0v44.6M1148.1 0v44.6M1162.8 0v44.6M1190.5 0v44.6M1194 0v44.6M1199.4 0v44.6M1205.2 0v44.6M1239.5 0v44.6M1464.7 0v44.6M1593.9 0v44.6M1696.5 0v44.6"/>
<rect x="1081.3" y="951.7" width="646.4" height="44.6" fill="none" stroke="#555" stroke-width="1.8"/>

<rect x="1081.3" y="1031.5" width="82.4" height="12.5" fill="#c45656"/><rect x="1163.7" y="1031.5" width="69.1" height="12.5" fill="#d48888"/><rect x="1232.8" y="1031.5" width="86.1" height="12.5" fill="#e8c0c0"/><rect x="1318.9" y="1031.5" width="237.1" height="12.5" fill="#f6eaea"/><rect x="1556" y="1031.5" width="80.3" height="12.5" fill="#e6ecf4"/><rect x="1636.3" y="1031.5" width="33.4" height="12.5" fill="#b4c8e0"/><rect x="1669.7" y="1031.5" width="24.5" height="12.5" fill="#88a6d0"/><rect x="1694.2" y="1031.5" width="33.5" height="12.5" fill="#5a86bf"/>
<path transform="translate(0,999.4)" stroke="#c9643f" stroke-width="1.2" d="M1084.4 0v44.6M1087.1 0v44.6M1090.2 0v44.6M1093.3 0v44.6M1096 0v44.6M1099.1 0v44.6M1102.2 0v44.6M1105.8 0v44.6M1109.4 0v44.6M1112.5 0v44.6M1116 0v44.6M1119.2 0v44.6M1122.7 0v44.6M1125.8 0v44.6M1129 0v44.6M1132.5 0v44.6M1137 0v44.6M1141.5 0v44.6M1146.8 0v44.6M1152.6 0v44.6M1157.1 0v44.6M1163.7 0v44.6M1171.8 0v44.6M1177.1 0v44.6M1183.8 0v44.6M1190.5 0v44.6M1199.4 0v44.6M1206.1 0v44.6M1212.8 0v44.6M1221.7 0v44.6M1232.8 0v44.6M1239.5 0v44.6M1246.2 0v44.6M1252.9 0v44.6M1273 0v44.6M1406.7 0v44.6M1437.9 0v44.6M1442.4 0v44.6M1449.1 0v44.6M1453.5 0v44.6M1460.2 0v44.6M1466.9 0v44.6M1473.6 0v44.6M1478 0v44.6M1484.7 0v44.6M1491.4 0v44.6M1495.9 0v44.6M1556 0v44.6M1562.7 0v44.6M1569.4 0v44.6M1573.9 0v44.6M1582.8 0v44.6M1589.5 0v44.6M1609.5 0v44.6M1616.2 0v44.6M1627.3 0v44.6M1636.3 0v44.6M1643 0v44.6M1651.9 0v44.6M1656.3 0v44.6M1663 0v44.6M1672 0v44.6M1678.6 0v44.6M1685.3 0v44.6M1689.8 0v44.6M1698.7 0v44.6M1703.2 0v44.6"/>
<rect x="1081.3" y="999.4" width="646.4" height="44.6" fill="none" stroke="#555" stroke-width="1.8"/>

<rect x="1081.3" y="1079" width="35.6" height="13" fill="#c45656"/><rect x="1116.9" y="1079" width="29" height="13" fill="#d48c8c"/><rect x="1145.9" y="1079" width="49.1" height="13" fill="#e4b8b8"/><rect x="1195" y="1079" width="37.8" height="13" fill="#f2e6e6"/><rect x="1232.8" y="1079" width="113.7" height="13" fill="#e8edf4"/><rect x="1346.5" y="1079" width="196.2" height="13" fill="#b8cbe2"/><rect x="1542.7" y="1079" width="95.8" height="13" fill="#90acd4"/><rect x="1638.5" y="1079" width="89.2" height="13" fill="#5b7fc0"/>
<path transform="translate(0,1047)" stroke="#d35cf2" stroke-width="1.2" d="M1085.7 0v45M1108 0v45M1125.8 0v45M1130.3 0v45M1137 0v45M1150.4 0v45M1154.8 0v45M1168.2 0v45M1172.7 0v45M1179.3 0v45M1186 0v45M1192.7 0v45M1208.3 0v45M1212.8 0v45M1217.2 0v45M1221.7 0v45M1226.2 0v45M1232.8 0v45M1239.5 0v45M1244 0v45M1250.7 0v45M1266.3 0v45M1273 0v45M1279.6 0v45M1290.8 0v45M1402.2 0v45M1406.7 0v45M1411.2 0v45M1422.3 0v45M1435.7 0v45M1442.4 0v45M1455.7 0v45M1469.1 0v45M1478 0v45M1484.7 0v45M1493.6 0v45M1502.5 0v45M1511.5 0v45M1529.3 0v45M1542.7 0v45M1553.8 0v45M1567.2 0v45M1571.6 0v45M1576.1 0v45M1580.6 0v45M1585 0v45M1589.5 0v45M1593.9 0v45M1598.4 0v45M1602.9 0v45M1607.3 0v45M1611.8 0v45M1618.5 0v45M1622.9 0v45M1627.4 0v45M1631.8 0v45M1636.3 0v45M1643 0v45M1647.4 0v45M1651.9 0v45M1658.6 0v45M1663 0v45M1667.5 0v45M1672 0v45M1676.4 0v45M1680.9 0v45M1685.3 0v45M1689.8 0v45M1694.2 0v45M1698.7 0v45M1703.2 0v45M1707.6 0v45M1712.1 0v45M1718.8 0v45M1723.2 0v45"/>
<rect x="1081.3" y="1047" width="646.4" height="45" fill="none" stroke="#555" stroke-width="1.8"/>

<rect x="1081.3" y="1127" width="41.4" height="13.7" fill="#c45656"/><rect x="1122.7" y="1127" width="24.1" height="13.7" fill="#d89090"/><rect x="1146.8" y="1127" width="34.8" height="13.7" fill="#e8c4c4"/><rect x="1181.6" y="1127" width="42.3" height="13.7" fill="#f6eded"/><rect x="1223.9" y="1127" width="49.1" height="13.7" fill="#e8edf4"/><rect x="1273" y="1127" width="112.3" height="13.7" fill="#b8cbe2"/><rect x="1385.3" y="1127" width="255.4" height="13.7" fill="#90acd4"/><rect x="1640.7" y="1127" width="87" height="13.7" fill="#5b80bc"/>
<path transform="translate(0,1095)" stroke="#eda265" stroke-width="1.2" d="M1092.4 0v45.7M1110.2 0v45.7M1137 0v45.7M1163.7 0v45.7M1192.7 0v45.7M1199.4 0v45.7M1206.1 0v45.7M1217.2 0v45.7M1230.6 0v45.7M1235.1 0v45.7M1286.3 0v45.7M1317.5 0v45.7M1324.2 0v45.7M1342 0v45.7M1373.3 0v45.7M1395.6 0v45.7M1417.8 0v45.7M1444.6 0v45.7M1455.7 0v45.7M1469.1 0v45.7M1475.8 0v45.7M1493.6 0v45.7M1509.2 0v45.7M1524.8 0v45.7M1531.3 0v45.7M1542.7 0v45.7M1551.9 0v45.7M1571.6 0v45.7M1573.8 0v45.7M1578.3 0v45.7M1582.7 0v45.7M1587.2 0v45.7M1593.9 0v45.7M1609.5 0v45.7M1622.9 0v45.7M1629.6 0v45.7M1636.3 0v45.7M1654.1 0v45.7M1663 0v45.7M1667.5 0v45.7M1672 0v45.7M1676.4 0v45.7M1685.3 0v45.7M1689.8 0v45.7M1696.5 0v45.7M1700.9 0v45.7M1707.6 0v45.7M1714.3 0v45.7M1721 0v45.7"/>
<rect x="1081.3" y="1095" width="646.4" height="45.7" fill="none" stroke="#555" stroke-width="1.8"/>
</g>
<text x="1404" y="1176" font-size="23" text-anchor="middle" textLength="261" lengthAdjust="spacingAndGlyphs">Rank in Ordered Dataset</text>
<text transform="translate(1049,901) rotate(-90)" font-size="23.5" text-anchor="middle">Running Enrichment Score</text>
</svg>
</body></html>
